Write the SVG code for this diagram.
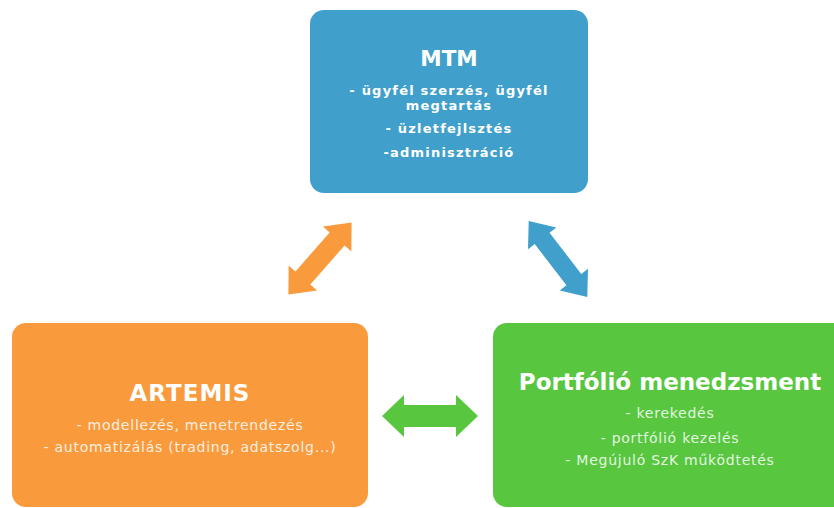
<svg xmlns="http://www.w3.org/2000/svg" width="834" height="508" viewBox="0 0 834 508">
<style>
.title{font-family:"DejaVu Sans","Liberation Sans",sans-serif;font-weight:bold;font-size:23px;fill:#ffffff;text-anchor:middle}
.bt{font-family:"DejaVu Sans","Liberation Sans",sans-serif;font-weight:bold;font-size:13px;letter-spacing:1.2px;fill:#ffffff;text-anchor:middle}
.nt{font-family:"DejaVu Sans","Liberation Sans",sans-serif;font-size:14px;letter-spacing:0.75px;fill:#ffffff;fill-opacity:0.85;text-anchor:middle}
</style>
<defs>
<polygon id="dbl" points="-48,0 -26,-21 -26,-11 26,-11 26,-21 48,0 26,21 26,11 -26,11 -26,21"/>
</defs>
<rect width="834" height="508" fill="#ffffff"/>
<g id="mtm">
<rect x="310" y="10" width="278" height="183" rx="14" fill="#40a0cb"/>
<text class="title" x="449" y="66" style="font-size:21.5px">MTM</text>
<text class="bt" x="449" y="95">- ügyfél szerzés, ügyfél</text>
<text class="bt" x="449" y="110">megtartás</text>
<text class="bt" x="449" y="133">- üzletfejlsztés</text>
<text class="bt" x="449" y="157">-adminisztráció</text>
</g>
<g id="artemis">
<rect x="12" y="323" width="356" height="184" rx="14" fill="#f99b3d"/>
<text class="title" x="190" y="401" style="letter-spacing:1px">ARTEMIS</text>
<text class="nt" x="190" y="430">- modellezés, menetrendezés</text>
<text class="nt" x="190" y="452">- automatizálás (trading, adatszolg...)</text>
</g>
<g id="portfolio">
<rect x="493" y="323" width="360" height="184" rx="14" fill="#58c73f"/>
<text class="title" x="670" y="390">Portfólió menedzsment</text>
<text class="nt" x="670" y="418">- kerekedés</text>
<text class="nt" x="670" y="443">- portfólió kezelés</text>
<text class="nt" x="670" y="465">- Megújuló SzK működtetés</text>
</g>
<g id="connectors">
<use href="#dbl" fill="#f99b3d" transform="translate(320,258.5) rotate(-48.8) scale(1,0.9)"/>
<use href="#dbl" fill="#40a0cb" transform="translate(558,259) rotate(52.4) scale(1,0.85)"/>
<use href="#dbl" fill="#58c73f" transform="translate(430,416)"/>
</g>
</svg>
